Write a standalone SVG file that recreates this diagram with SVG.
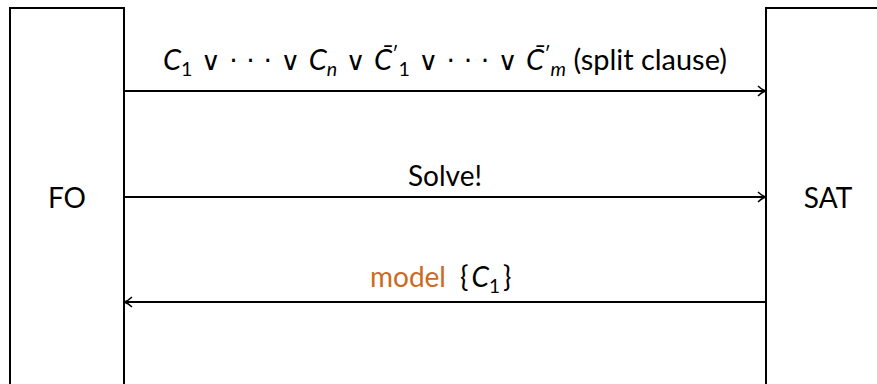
<svg xmlns="http://www.w3.org/2000/svg" width="877" height="384" viewBox="0 0 877 384">
<defs>
<style>
.box{fill:#fff;stroke:#000;stroke-width:2}
.t{font-family:Lato,"DejaVu Sans","Liberation Sans",sans-serif;font-size:28px;fill:#000}
.m{font-style:italic}
.s{font-size:19px}
.o{font-family:"DejaVu Sans",sans-serif;font-size:26px}
.ln{stroke:#000;stroke-width:2;fill:none}
</style>
<marker id="ah" viewBox="0 0 10 12" refX="9" refY="6" markerWidth="10" markerHeight="12" markerUnits="userSpaceOnUse" orient="auto">
<path d="M1,1 Q5,5 9,6 Q5,7 1,11" fill="none" stroke="#000" stroke-width="1.5"/>
</marker>
</defs>
<g id="fo">
<rect class="box" x="10" y="8" width="114" height="390"/>
<text class="t" x="67" y="208" text-anchor="middle">FO</text>
</g>
<g id="sat">
<rect class="box" x="766" y="8" width="130" height="390"/>
<text class="t" x="828" y="208" text-anchor="middle">SAT</text>
</g>
<g id="connectors">
<line class="ln" x1="124" y1="91" x2="766" y2="91" marker-end="url(#ah)"/>
<line class="ln" x1="124" y1="197" x2="766" y2="197" marker-end="url(#ah)"/>
<line class="ln" x1="766" y1="302" x2="124" y2="302" marker-end="url(#ah)"/>
<text class="t" x="445" y="70" text-anchor="middle" textLength="564" lengthAdjust="spacingAndGlyphs"><tspan class="m">C</tspan><tspan class="s" dy="6">1</tspan><tspan class="o" dy="-6"> ∨ · · · ∨ </tspan><tspan class="m">C</tspan><tspan class="s m" dy="6">n</tspan><tspan class="o" dy="-6"> ∨ </tspan><tspan class="m">C̄</tspan><tspan class="s" dy="-9">′</tspan><tspan class="s" dy="15">1</tspan><tspan class="o" dy="-6"> ∨ · · · ∨ </tspan><tspan class="m">C̄</tspan><tspan class="s" dy="-9">′</tspan><tspan class="s m" dy="15">m</tspan><tspan dy="-6"> (split clause)</tspan></text>
<text class="t" x="445" y="186" text-anchor="middle">Solve!</text>
<text class="t" x="370" y="287"><tspan fill="#cc6a22">model</tspan><tspan dx="14">{</tspan><tspan class="m" dx="3">C</tspan><tspan class="s" dy="6">1</tspan><tspan dx="3" dy="-6">}</tspan></text>
</g>
</svg>
